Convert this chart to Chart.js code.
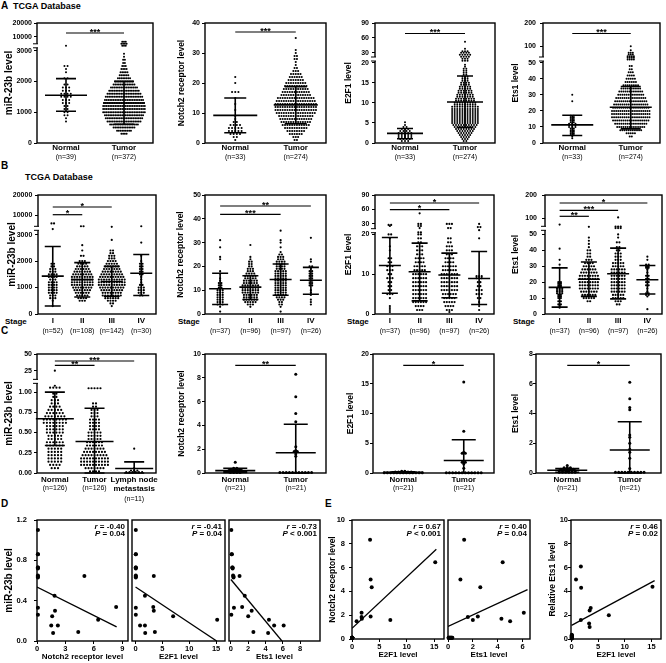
<!DOCTYPE html>
<html>
<head>
<meta charset="utf-8">
<script src="https://cdn.jsdelivr.net/npm/chart.js@4.4.0/dist/chart.umd.min.js"></script>
<style>
body { margin: 0; background: #fff; }
#fig { position: relative; width: 666px; height: 663px; overflow: hidden; font-family: "Liberation Sans", Arial, sans-serif; }
#fig canvas { position: absolute; }
.lbl { position: absolute; font-weight: bold; white-space: nowrap; line-height: 1; color: #000; }
</style>
</head>
<body>
<div id="fig">
  <div class="lbl" style="left:1px;top:1px;font-size:10px">A</div>
  <div class="lbl" style="left:13px;top:2px;font-size:9px">TCGA Database</div>
  <div class="lbl" style="left:1px;top:161px;font-size:10px">B</div>
  <div class="lbl" style="left:25px;top:173px;font-size:9px">TCGA Database</div>
  <div class="lbl" style="left:5px;top:318px;font-size:8px">Stage</div>
  <div class="lbl" style="left:178px;top:318px;font-size:8px">Stage</div>
  <div class="lbl" style="left:347px;top:318px;font-size:8px">Stage</div>
  <div class="lbl" style="left:513px;top:318px;font-size:8px">Stage</div>
  <div class="lbl" style="left:1px;top:326px;font-size:10px">C</div>
  <div class="lbl" style="left:1px;top:499px;font-size:10px">D</div>
  <div class="lbl" style="left:325px;top:499px;font-size:10px">E</div>
</div>
<script>
// ---- A: TCGA normal vs tumor (rows of the beeswarm: value -> number of dots) ----
const catsNT = ['Normal', 'Tumor'];
const a1Subs = ['(n=39)', '(n=372)'];
const aSubs = ['(n=33)', '(n=274)'];

const a1Vals = [
  [5500, 2500, 2400, 2300, 2100, 1900, 1800, 1700, 1600, 1500, 1400, 1300, 1200, 1100, 1000, 900, 800, 700],
  [7500, 6500, 5500, 2900, 2800, 2700, 2600, 2500, 2400, 2300, 2200, 2100, 2000, 1900, 1800, 1700, 1600, 1500, 1400, 1300, 1200, 1100, 1000, 900, 800, 700, 600, 500, 400, 300]
];
const a1Cnt = [
  [1, 2, 1, 1, 2, 2, 3, 3, 4, 4, 3, 3, 2, 2, 2, 2, 1, 1],
  [3, 4, 3, 1, 1, 2, 2, 3, 4, 5, 6, 8, 11, 13, 16, 18, 20, 22, 23, 24, 25, 25, 25, 23, 22, 20, 17, 13, 9, 4]
];
const a1Mean = [1550, 1300], a1Lo = [1030, 610], a1Hi = [2090, 2000];
const a1Ticks = [0, 1000, 2000, 3000, 10000, 20000];

const a2Vals = [
  [22, 20, 17, 15, 13, 11, 9, 8, 7, 6, 5, 4, 3, 2, 1],
  [35, 31, 30, 29, 28, 27, 26, 25, 24, 23, 22, 21, 20, 19, 18, 17, 16, 15, 14, 13, 12, 11, 10, 9, 8, 7, 6, 5, 4, 3, 2, 1]
];
const a2Cnt = [
  [1, 1, 3, 1, 1, 1, 1, 1, 2, 4, 5, 5, 4, 2, 1],
  [1, 1, 1, 2, 2, 1, 1, 2, 3, 5, 6, 7, 9, 10, 11, 12, 13, 16, 17, 18, 18, 18, 17, 15, 14, 13, 12, 10, 8, 6, 3, 2]
];
const a2Mean = [9.2, 12.7], a2Lo = [3.4, 6.4], a2Hi = [15, 18.8];
const a2Ticks = [0, 10, 20, 30, 40];

const a3Vals = [
  [5.2, 4.5, 4, 3.5, 3, 2.5, 2, 1.5, 1, 0.5],
  [52, 38, 33, 30, 28, 26, 24, 22, 19.5, 19, 18.5, 18, 17.5, 17, 16.5, 16, 15.5, 15, 14.5, 14, 13.5, 13, 12.5, 12, 11.5, 11, 10.5, 10,
   9.5, 9, 8.5, 8, 7.5, 7, 6.5, 6, 5.5, 5, 4.5, 4, 3.5, 3, 2.5, 2, 1.5, 1, 0.5]
];
const a3Cnt = [
  [1, 1, 2, 3, 4, 5, 5, 5, 4, 3],
  [1, 1, 3, 4, 5, 4, 3, 3, 1, 1, 2, 2, 2, 2, 3, 3, 3, 4, 4, 5, 5, 6, 6, 7, 7, 8, 8, 9,
   9, 11, 11, 11, 11, 11, 11, 11, 11, 11, 10, 9, 8, 7, 6, 5, 4, 3, 2]
];
const a3Mean = [2.4, 10.2], a3Lo = [1.06, 3.9], a3Hi = [3.6, 16.7];
const a3Ticks = [0, 5, 10, 15, 20, 30, 60, 90];

const a4Vals = [
  [30, 26, 17, 16, 15, 14, 13, 12, 11, 10, 9, 8, 7, 6, 5, 4, 3],
  [100, 88, 80, 75, 70, 65, 60, 48, 46, 44, 42, 40, 38, 36, 34, 32, 30, 28, 26, 24, 22, 20, 18, 16, 14, 12, 10, 8, 6, 4]
];
const a4Cnt = [
  [1, 1, 2, 2, 2, 2, 2, 3, 3, 3, 2, 2, 2, 2, 2, 1, 1],
  [1, 1, 3, 3, 4, 4, 4, 2, 2, 3, 4, 5, 6, 8, 10, 12, 13, 15, 16, 17, 18, 19, 19, 19, 18, 16, 14, 11, 5, 2]
];
const a4Mean = [11.3, 22.3], a4Lo = [4.7, 8.8], a4Hi = [17.3, 35.2];
const a4Ticks = [0, 10, 20, 30, 40, 50, 100, 200];

// ---- B: TCGA by stage ----
const catsStage = ['I', 'II', 'III', 'IV'];
const b1Subs = ['(n=52)', '(n=108)', '(n=142)', '(n=30)'];
const bSubs = ['(n=37)', '(n=96)', '(n=97)', '(n=26)'];

const b1Vals = [
  [7000, 5000, 1900, 1800, 1700, 1600, 1500, 1400, 1300, 1200, 1100, 1000, 900, 800, 700, 600, 500, 300],
  [6000, 2600, 2400, 2200, 2000, 1900, 1800, 1700, 1600, 1500, 1400, 1300, 1200, 1100, 1000, 900, 800, 700, 600, 500],
  [5800, 2800, 2400, 2300, 2200, 2100, 2000, 1900, 1800, 1700, 1600, 1500, 1400, 1300, 1200, 1100, 1000, 900, 800, 700, 600, 500, 400, 300],
  [6000, 2700, 2200, 2000, 1900, 1800, 1700, 1600, 1500, 1400, 1300, 1200, 1100, 1000, 900, 800, 700]
];
const b1Cnt = [
  [2, 1, 2, 2, 3, 3, 4, 4, 3, 4, 4, 4, 4, 4, 3, 3, 1, 1],
  [2, 1, 1, 2, 3, 4, 5, 6, 7, 8, 9, 9, 9, 9, 8, 7, 6, 5, 4, 3],
  [1, 1, 2, 2, 3, 3, 4, 5, 6, 7, 8, 9, 10, 11, 11, 11, 10, 9, 8, 8, 6, 4, 2, 1],
  [1, 1, 1, 1, 2, 2, 2, 2, 2, 1, 1, 1, 2, 3, 3, 3, 2]
];
const b1Mean = [1430, 1300, 1230, 1540], b1Lo = [300, 640, 670, 700], b1Hi = [2550, 1940, 1800, 2250];

const b2Vals = [
  [31, 28, 24, 23, 18, 17, 15, 14, 13, 12, 11, 10, 9, 8, 7, 6, 5, 4, 3, 1],
  [29, 24, 23, 22, 21, 20, 19, 18, 17, 16, 15, 14, 13, 12, 11, 10, 9, 8, 7, 6, 5, 4, 3],
  [35, 31, 30, 28, 26, 25, 24, 23, 22, 21, 20, 19, 18, 17, 16, 15, 14, 13, 12, 11, 10, 9, 8, 7, 6, 5, 4, 3, 1],
  [32, 23, 22, 20, 19, 18, 17, 16, 15, 14, 13, 12, 10, 9, 8, 6, 5, 4]
];
const b2Cnt = [
  [1, 1, 1, 1, 1, 1, 1, 1, 2, 2, 2, 3, 3, 3, 3, 3, 3, 3, 1, 1],
  [1, 1, 1, 2, 2, 2, 3, 3, 4, 5, 5, 6, 6, 7, 7, 7, 7, 6, 6, 6, 5, 3, 1],
  [1, 1, 1, 1, 1, 2, 3, 3, 4, 4, 4, 4, 5, 5, 5, 5, 5, 5, 5, 5, 5, 5, 5, 4, 3, 2, 2, 1, 1],
  [1, 1, 1, 2, 1, 2, 2, 2, 2, 2, 2, 2, 1, 1, 1, 1, 1, 1]
];
const b2Mean = [10.6, 11.3, 14.5, 14.2], b2Lo = [4.0, 6.1, 7.9, 8.3], b2Hi = [17.1, 16.1, 21.0, 19.6];

const b3Vals = [
  [29, 28, 20, 19, 17, 16, 14, 13, 12, 11, 10, 9, 8, 7, 6, 5, 4, 2, 1.5, 1, 0.5],
  [52, 30, 28, 26, 22, 20, 19, 18, 17, 16, 15, 14, 13, 12, 11, 10, 9, 8, 7, 6, 5, 4, 3, 2, 1],
  [30, 26, 19, 18, 17, 16, 15, 14, 13, 12, 11, 10, 9, 8, 7, 6, 5, 4, 3, 2, 1, 0.5],
  [30, 27, 24, 19, 9.5, 9, 8, 7, 6, 5, 4, 3, 2, 1]
];
const b3Cnt = [
  [2, 1, 2, 1, 1, 1, 2, 2, 3, 3, 2, 3, 2, 2, 2, 3, 1, 1, 1, 1, 1],
  [1, 2, 2, 1, 2, 2, 2, 2, 3, 3, 3, 4, 4, 5, 5, 6, 6, 6, 6, 6, 6, 6, 6, 4, 3],
  [3, 2, 2, 2, 3, 3, 3, 4, 4, 6, 6, 7, 7, 7, 7, 7, 6, 5, 5, 4, 3, 1],
  [1, 2, 1, 1, 3, 3, 2, 2, 3, 3, 2, 1, 1, 1]
];
const b3Mean = [12.2, 10.6, 9.8, 8.9], b3Lo = [5.2, 3.3, 4.1, 2.4], b3Hi = [19.2, 17.8, 15.3, 15.7];

const b4Vals = [
  [81, 41, 34, 31, 29, 20, 19, 18, 17, 16, 15, 14, 13, 12, 11, 10, 8, 6, 5, 4],
  [74, 48, 46, 44, 42, 40, 38, 36, 34, 32, 30, 28, 26, 24, 22, 20, 18, 16, 14, 12, 10, 8],
  [105, 75, 70, 50, 48, 45, 42, 40, 38, 36, 34, 32, 30, 28, 26, 24, 22, 20, 18, 16, 14, 12, 10, 8, 6],
  [36, 34, 31, 30, 29, 28, 26, 24, 22, 20, 18, 16, 14, 13, 12, 11, 3]
];
const b4Cnt = [
  [1, 1, 1, 1, 1, 2, 2, 2, 2, 3, 3, 3, 3, 2, 2, 2, 2, 2, 1, 1],
  [1, 1, 1, 1, 1, 2, 2, 2, 3, 4, 5, 6, 7, 8, 8, 8, 8, 8, 7, 6, 5, 2],
  [1, 3, 3, 1, 1, 2, 2, 2, 3, 3, 3, 5, 5, 6, 6, 6, 6, 6, 6, 6, 6, 5, 5, 3, 2],
  [1, 1, 2, 2, 2, 1, 1, 2, 2, 2, 2, 1, 1, 2, 2, 1, 1]
];
const b4Mean = [16.7, 21.8, 25.3, 21.5], b4Lo = [4.3, 11.1, 9.5, 12.6], b4Hi = [29, 32.7, 41.4, 30.5];

// ---- C: clinical samples ----
const catsC1 = ['Normal', 'Tumor', 'Lymph node'];
const c1Subs = ['(n=126)', '(n=126)', 'metastasis'];
const c1Subs3 = ['', '', '(n=11)'];
const cSubs = ['(n=21)', '(n=21)'];

const c1Vals = [
  [25, 1.1, 1.07, 0.98, 0.94, 0.90, 0.86, 0.82, 0.78, 0.74, 0.70, 0.66, 0.62, 0.58, 0.54, 0.50, 0.46, 0.42, 0.38, 0.34, 0.30, 0.26, 0.22, 0.18, 0.14, 0.10, 0.06],
  [1.06, 0.86, 0.82, 0.78, 0.74, 0.70, 0.66, 0.62, 0.58, 0.54, 0.50, 0.46, 0.42, 0.38, 0.34, 0.30, 0.26, 0.22, 0.18, 0.14, 0.10, 0.06, 0.02],
  [0.3, 0.06, 0.03, 0.01]
];
const c1Cnt = [
  [1, 1, 4, 2, 2, 3, 3, 4, 5, 6, 7, 8, 8, 6, 6, 6, 5, 5, 6, 6, 5, 5, 5, 5, 5, 4, 3],
  [5, 2, 2, 3, 3, 3, 4, 4, 4, 4, 5, 5, 5, 6, 6, 7, 8, 9, 10, 10, 10, 7, 4],
  [1, 1, 3, 6]
];
const c1Mean = [0.67, 0.39, 0.055], c1Lo = [0.34, 0, 0], c1Hi = [1.0, 0.8, 0.137];
const c1Ticks = [0, 0.25, 0.5, 0.75, 1, 25, 50];
const c1TickLabels = ['0.00', '0.25', '0.50', '0.75', '1.00', '25', '50'];

const c2Vals = [[0.9, 0.4, 0.3, 0.2, 0.1, 0.05], [8.3, 6.4, 5.0, 4.3, 2.2, 1.9, 1.8, 1.6, 1.4, 0.05]];
const c2Cnt = [[1, 2, 4, 5, 5, 4], [1, 1, 1, 1, 1, 1, 2, 1, 1, 11]];
const c2Mean = [0.2, 1.7], c2Lo = [0.05, 0], c2Hi = [0.4, 4.1];

const c3Vals = [[0.3, 0.15, 0.05], [15.3, 7.0, 3.5, 3.3, 1.8, 1.5, 0.8, 0.05]];
const c3Cnt = [[2, 6, 13], [1, 1, 1, 2, 2, 1, 1, 12]];
const c3Mean = [0.1, 2.1], c3Lo = [0.03, 0], c3Hi = [0.2, 5.6];

const c4Vals = [[0.5, 0.35, 0.25, 0.15, 0.05], [6.1, 5.0, 4.4, 4.25, 2.55, 2.4, 2.0, 1.6, 1.4, 1.0, 0.3, 0.05]];
const c4Cnt = [[1, 3, 5, 6, 6], [1, 1, 1, 1, 1, 1, 1, 1, 1, 1, 1, 10]];
const c4Mean = [0.18, 1.55], c4Lo = [0.05, 0], c4Hi = [0.3, 3.45];

// ---- D / E: the 21 tumour samples ----
const sNotch2 = [8.35, 6.45, 5.0, 4.35, 2.2, 1.9, 1.85, 1.6, 1.5, 1.7, 0.1, 0.1, 0.1, 0.1, 0.1, 0.1, 0.1, 0.1, 0.1, 0.1, 0.1];
const sE2f1 = [3.3, 15.2, 3.4, 3.6, 1.75, 3.4, 1.75, 7.0, 0.84, 1.8, 0.05, 0.05, 0.05, 0.05, 0.05, 0.05, 0.05, 0.05, 0.05, 0.05, 0.05];
const sEts1 = [1.3, 4.4, 1.0, 2.6, 6.1, 2.4, 1.6, 2.0, 5.0, 4.3, 0.05, 0.1, 0.15, 0.2, 0.25, 0.3, 0.35, 0.05, 0.1, 0.2, 0.3];
const sMir = [0.336, 0.21, 0.645, 0.09, 0.153, 0.30, 0.45, 0.245, 0.153, 0.08, 1.10, 0.86, 0.73, 0.72, 0.65, 0.63, 0.33, 0.26, 0.86, 0.73, 0.64];

const fitD1 = { x: [0, 8.4], y: [0.535, 0.14] };
const fitD2 = { x: [0, 15.1], y: [0.535, 0.0] };
const fitD3 = { x: [0, 5.9], y: [0.61, 0.0] };
const fitE1 = { x: [0, 15.4], y: [0.9, 7.55] };
const fitE2 = { x: [0, 6.4], y: [1.05, 4.15] };
const fitE3 = { x: [0, 15.6], y: [1.15, 4.9] };

// ----------------------------------------------------------------
const FONT = '"Liberation Sans", Arial, sans-serif';
Chart.defaults.font.family = FONT;
Chart.defaults.color = '#000';
const fig = document.getElementById('fig');

function addCanvas(left, top, w, h) {
  const c = document.createElement('canvas');
  c.width = w; c.height = h;
  c.style.left = left + 'px'; c.style.top = top + 'px';
  c.style.width = w + 'px'; c.style.height = h + 'px';
  fig.appendChild(c);
  return c;
}

// piecewise axis (broken axes): real value -> fraction of plot height
function mapper(real, frac) {
  return v => {
    for (let i = 1; i < real.length; i++) {
      if (v <= real[i] || i === real.length - 1)
        return frac[i - 1] + (v - real[i - 1]) / (real[i] - real[i - 1]) * (frac[i] - frac[i - 1]);
    }
  };
}
function fixBox(w, h) {
  return s => {
    if (w != null) s.width = w;
    if (h != null) s.height = h;
    s.paddingLeft = s.paddingRight = s.paddingTop = s.paddingBottom = 0;
  };
}
function setTicks(arr) { return s => { s.ticks = arr.map(v => ({ value: v })); }; }

const labA = { p1: 0, h1: 10, p2: 0, h2: 9 };
const labB = { p1: 2, h1: 12, p2: 1, h2: 10 };
const labC = { p1: 2, h1: 11, p2: 0, h2: 9, p3: 2, h3: 12 };

function makeDot(p) {
  const [l, t, r, b] = p.plot;
  const hb = p.lab.h1 + p.lab.h2 + (p.subs3 ? p.lab.h3 : 0);
  const cv = addCanvas(Math.round(l - p.wl), t - 2, Math.round(r - l + p.wl + 3), b - t + 2 + hb);
  const wl = l - Math.round(l - p.wl);
  const fy = mapper(p.yReal, p.yFrac);
  const upx = (p.xMax - p.xMin) / (r - l);
  const catX = p.cats.map((_, i) => i + 1);
  const labels = p.yLabels || p.yTicks.map(String);

  const datasets = p.vals.map((rows, g) => {
    const pts = [];
    rows.forEach((v, i) => {
      const n = p.cnt[g][i];
      for (let k = 0; k < n; k++) pts.push({ x: g + 1 + (k - (n - 1) / 2) * p.dx[g] * upx, y: fy(v) });
    });
    return { data: pts, pointRadius: p.rad, pointBackgroundColor: '#000', pointBorderWidth: 0, clip: 4 };
  });

  const deco = {
    id: 'deco',
    afterDraw(ch) {
      const c = ch.ctx, a = ch.chartArea, xs = ch.scales.x, ys = ch.scales.y;
      c.save();
      c.strokeStyle = '#000'; c.lineWidth = 1.4;
      c.strokeRect(a.left, a.top, a.right - a.left, a.bottom - a.top);
      if (p.brk != null) {
        const yb = ys.getPixelForValue(p.brk);
        c.fillStyle = '#fff'; c.fillRect(a.left - 2, yb - 2, 4, 4);
        c.lineWidth = 1; c.beginPath();
        c.moveTo(a.left - 4, yb - 2); c.lineTo(a.left + 1, yb - 2);
        c.moveTo(a.left - 4, yb + 2); c.lineTo(a.left + 1, yb + 2);
        c.stroke();
      }
      c.lineWidth = 1.6;
      p.mean.forEach((m, g) => {
        const cx = xs.getPixelForValue(g + 1);
        const ym = ys.getPixelForValue(fy(m));
        const y1 = ys.getPixelForValue(fy(p.lo[g])), y2 = ys.getPixelForValue(fy(p.hi[g]));
        c.beginPath();
        c.moveTo(cx - p.mh, ym); c.lineTo(cx + p.mh, ym);
        c.moveTo(cx, y1); c.lineTo(cx, y2);
        c.moveTo(cx - p.ch, y1); c.lineTo(cx + p.ch, y1);
        c.moveTo(cx - p.ch, y2); c.lineTo(cx + p.ch, y2);
        c.stroke();
      });
      c.lineWidth = 1.2; c.fillStyle = '#000';
      c.font = 'bold 9px ' + FONT; c.textAlign = 'center'; c.textBaseline = 'alphabetic';
      p.sig.forEach(s => {
        const x1 = xs.getPixelForValue(s.a), x2 = xs.getPixelForValue(s.b), y = a.top + s.dy;
        c.beginPath(); c.moveTo(x1, y); c.lineTo(x2, y); c.stroke();
        c.fillText(s.t, (x1 + x2) / 2, y + 1.5);
      });
      c.restore();
    }
  };

  const catAxis = (weight, h, pad, font, texts) => ({
    type: 'linear', position: 'bottom', weight, min: p.xMin, max: p.xMax,
    afterBuildTicks: setTicks(catX), afterFit: fixBox(null, h),
    grid: { display: false, drawTicks: false }, border: { display: false },
    ticks: { autoSkip: false, maxRotation: 0, minRotation: 0, padding: pad, font, callback: (v, i) => texts[i] }
  });
  const bold8 = { size: 8, weight: 'bold', lineHeight: 1.1 };
  const small7 = { size: 7, lineHeight: 1.1 };
  const scales = {
    x: catAxis(0, p.lab.h1, p.lab.p1, bold8, p.cats),
    // sub labels; a tick whose text is a word (not a count) keeps the bold label font
    x2: catAxis(1, p.lab.h2, p.lab.p2, ctx => (p.subs[ctx.index] || '').startsWith('(') ? small7 : bold8, p.subs),
    y: {
      type: 'linear', min: 0, max: 1,
      afterBuildTicks: setTicks(p.yTicks.map(fy)), afterFit: fixBox(wl, null),
      grid: { display: true, drawOnChartArea: false, drawTicks: true, tickLength: 3, color: '#000' },
      border: { display: false },
      ticks: { autoSkip: false, padding: p.yPad, font: { size: 7, weight: 'bold' }, callback: (v, i) => labels[i] },
      title: { display: true, text: p.title, font: { size: p.ts, weight: 'bold' }, padding: { top: 0, bottom: 0 } }
    }
  };
  if (p.subs3) scales.x3 = catAxis(2, p.lab.h3, p.lab.p3, small7, p.subs3);

  new Chart(cv, {
    type: 'scatter',
    data: { datasets },
    options: {
      responsive: false, animation: false, devicePixelRatio: 1, events: [],
      layout: { padding: { left: 0, top: 2, right: 3, bottom: 0 } },
      plugins: { legend: { display: false }, tooltip: { enabled: false } },
      scales
    },
    plugins: [deco]
  });
}

function makeSc(p) {
  const [l, t, r, b] = p.plot;
  const wl = p.wl || 1;
  const cv = addCanvas(Math.round(l - wl), t - 2, Math.round(r - l + wl + 3), b - t + 2 + 22);
  const w0 = l - Math.round(l - wl);
  const pts = p.xs.map((x, i) => ({ x, y: p.ys[i] }));
  const fit = p.fit.x.map((x, i) => ({ x, y: p.fit.y[i] }));

  const deco = {
    id: 'deco',
    afterDraw(ch) {
      const c = ch.ctx, a = ch.chartArea;
      c.save();
      c.strokeStyle = '#000'; c.lineWidth = 1.4;
      c.strokeRect(a.left, a.top, a.right - a.left, a.bottom - a.top);
      c.fillStyle = '#000'; c.textAlign = 'right'; c.textBaseline = 'middle';
      p.ann.forEach((s, i) => {
        const y = a.top + 6.5 + i * 7.5, xr = a.right - 3;
        const rest = s.slice(1);
        c.font = 'bold 8px ' + FONT;
        c.fillText(rest, xr, y);
        const w = c.measureText(rest).width;
        c.font = 'italic bold 8px ' + FONT;
        c.fillText(s[0], xr - w, y);
      });
      c.restore();
    }
  };

  new Chart(cv, {
    type: 'scatter',
    data: {
      datasets: [
        { data: pts, pointRadius: 2, pointBackgroundColor: '#000', pointBorderWidth: 0, clip: 4 },
        { type: 'line', data: fit, borderColor: '#000', borderWidth: 1.3, pointRadius: 0, fill: false }
      ]
    },
    options: {
      responsive: false, animation: false, devicePixelRatio: 1, events: [],
      layout: { padding: { left: p.wl ? 0 : 1, top: 2, right: 3, bottom: 0 } },
      plugins: { legend: { display: false }, tooltip: { enabled: false } },
      scales: {
        x: {
          type: 'linear', min: p.xMin, max: p.xMax,
          afterBuildTicks: setTicks(p.xTicks), afterFit: fixBox(null, 22),
          grid: { display: true, drawOnChartArea: false, drawTicks: true, tickLength: 3, color: '#000' },
          border: { display: false },
          ticks: { autoSkip: false, maxRotation: 0, padding: 0, font: { size: 7.5, weight: 'bold' }, callback: (v, i) => String(p.xTicks[i]) },
          title: { display: true, text: p.xTitle, font: { size: 8, weight: 'bold' }, padding: { top: 0, bottom: 1 } }
        },
        y: {
          display: !!p.wl, type: 'linear', min: p.yMin, max: p.yMax,
          afterBuildTicks: setTicks(p.yTicks), afterFit: fixBox(w0, null),
          grid: { display: true, drawOnChartArea: false, drawTicks: true, tickLength: 3, color: '#000' },
          border: { display: false },
          ticks: { autoSkip: false, padding: p.yPad || 0, font: { size: 7.5, weight: 'bold' }, callback: (v, i) => p.yLabels[i] },
          title: { display: true, text: p.title || '', font: { size: p.ts || 8, weight: 'bold' }, padding: { top: 0, bottom: 0 } }
        }
      }
    },
    plugins: [deco]
  });
}

// ---- row A ----
makeDot({ plot: [37, 21, 154, 143], wl: 34, ts: 10, title: 'miR-23b level', cats: catsNT, subs: a1Subs, xMin: 0.5, xMax: 2.5,
  yReal: [0, 3000, 10000, 20000], yFrac: [0, 0.77, 0.885, 1], yTicks: a1Ticks, brk: 0.81,
  vals: a1Vals, cnt: a1Cnt, mean: a1Mean, lo: a1Lo, hi: a1Hi, dx: [3.2, 1.75], rad: 1.0, mh: 21, ch: 10,
  sig: [{ a: 1, b: 2, t: '***', dy: 10 }], lab: labA, yPad: 2 });
makeDot({ plot: [205, 21, 327, 143], wl: 28, ts: 8.5, title: 'Notch2 receptor level', cats: catsNT, subs: aSubs, xMin: 0.5, xMax: 2.5,
  yReal: [0, 40], yFrac: [0, 1], yTicks: a2Ticks, brk: null,
  vals: a2Vals, cnt: a2Cnt, mean: a2Mean, lo: a2Lo, hi: a2Hi, dx: [3.2, 2.4], rad: 1.05, mh: 22, ch: 11,
  sig: [{ a: 1, b: 2, t: '***', dy: 9 }], lab: labA, yPad: 2 });
makeDot({ plot: [375, 21, 496, 143], wl: 31, ts: 8.5, title: 'E2F1 level', cats: catsNT, subs: aSubs, xMin: 0.5, xMax: 2.5,
  yReal: [0, 20, 30, 90], yFrac: [0, 0.669, 0.752, 1], yTicks: a3Ticks, brk: 0.70,
  vals: a3Vals, cnt: a3Cnt, mean: a3Mean, lo: a3Lo, hi: a3Hi, dx: [3.2, 2.6], rad: 1.0, mh: 18, ch: 8,
  sig: [{ a: 1, b: 2, t: '***', dy: 10.5 }], lab: labA, yPad: 3 });
makeDot({ plot: [543, 21, 661, 143], wl: 32, ts: 8.5, title: 'Ets1 level', cats: catsNT, subs: aSubs, xMin: 0.5, xMax: 2.5,
  yReal: [0, 50, 100, 200], yFrac: [0, 0.669, 0.806, 1], yTicks: a4Ticks, brk: 0.70,
  vals: a4Vals, cnt: a4Cnt, mean: a4Mean, lo: a4Lo, hi: a4Hi, dx: [3.2, 2.1], rad: 1.0, mh: 21, ch: 10,
  sig: [{ a: 1, b: 2, t: '***', dy: 10.5 }], lab: labA, yPad: 4 });

// ---- row B ----
makeDot({ plot: [38, 193, 157, 314], wl: 32, ts: 10, title: 'miR-23b level', cats: catsStage, subs: b1Subs, xMin: 0.5, xMax: 4.5,
  yReal: [0, 3000, 10000, 20000], yFrac: [0, 0.667, 0.831, 1], yTicks: a1Ticks, brk: 0.72,
  vals: b1Vals, cnt: b1Cnt, mean: b1Mean, lo: b1Lo, hi: b1Hi, dx: [2.6, 2.6, 2.6, 2.6], rad: 1.1, mh: 11, ch: 8,
  sig: [{ a: 1, b: 3, t: '*', dy: 12 }, { a: 1, b: 2, t: '*', dy: 19.7 }], lab: labB, yPad: 2.7 });
makeDot({ plot: [205, 193, 327, 314], wl: 29, ts: 8.5, title: 'Notch2 receptor level', cats: catsStage, subs: bSubs, xMin: 0.5, xMax: 4.5,
  yReal: [0, 50], yFrac: [0, 1], yTicks: [0, 10, 20, 30, 40, 50], brk: null,
  vals: b2Vals, cnt: b2Cnt, mean: b2Mean, lo: b2Lo, hi: b2Hi, dx: [2.6, 2.6, 2.6, 2.6], rad: 1.1, mh: 11, ch: 8,
  sig: [{ a: 1, b: 4, t: '**', dy: 11 }, { a: 1, b: 3, t: '***', dy: 19.3 }], lab: labB, yPad: 1 });
makeDot({ plot: [375, 193, 495, 314], wl: 31, ts: 8.5, title: 'E2F1 level', cats: catsStage, subs: bSubs, xMin: 0.5, xMax: 4.5,
  yReal: [0, 20, 30, 90], yFrac: [0, 0.669, 0.757, 1], yTicks: [0, 10, 20, 30, 60, 90], brk: 0.70,
  vals: b3Vals, cnt: b3Cnt, mean: b3Mean, lo: b3Lo, hi: b3Hi, dx: [2.6, 2.6, 2.6, 2.6], rad: 1.1, mh: 11, ch: 8,
  sig: [{ a: 1, b: 4, t: '*', dy: 8 }, { a: 1, b: 3, t: '*', dy: 14.7 }], lab: labB, yPad: 2.7 });
makeDot({ plot: [545, 193, 663, 314], wl: 33.6, ts: 8.5, title: 'Ets1 level', cats: catsStage, subs: bSubs, xMin: 0.5, xMax: 4.5,
  yReal: [0, 50, 100, 200], yFrac: [0, 0.669, 0.802, 1], yTicks: a4Ticks, brk: 0.72,
  vals: b4Vals, cnt: b4Cnt, mean: b4Mean, lo: b4Lo, hi: b4Hi, dx: [2.6, 2.6, 2.6, 2.6], rad: 1.1, mh: 11, ch: 8,
  sig: [{ a: 1, b: 4, t: '*', dy: 8 }, { a: 1, b: 3, t: '***', dy: 15.3 }, { a: 1, b: 2, t: '**', dy: 21.3 }], lab: labB, yPad: 5 });

// ---- row C ----
makeDot({ plot: [37, 352, 157, 473], wl: 34, ts: 10, title: 'miR-23b level', cats: catsC1, subs: c1Subs, subs3: c1Subs3, xMin: 0.55, xMax: 3.55,
  yReal: [0, 1, 1.15, 25, 50], yFrac: [0, 0.68, 0.76, 0.86, 1], yTicks: c1Ticks, yLabels: c1TickLabels, brk: 0.77,
  vals: c1Vals, cnt: c1Cnt, mean: c1Mean, lo: c1Lo, hi: c1Hi, dx: [3.2, 3.0, 3.2], rad: 1.1, mh: 19, ch: 10,
  sig: [{ a: 1, b: 3, t: '***', dy: 7 }, { a: 1, b: 2, t: '**', dy: 11.3 }], lab: labC, yPad: 2 });
makeDot({ plot: [205, 352, 327, 473], wl: 28, ts: 8.5, title: 'Notch2 receptor level', cats: catsNT, subs: cSubs, xMin: 0.5, xMax: 2.5,
  yReal: [0, 10], yFrac: [0, 1], yTicks: [0, 2, 4, 6, 8, 10], brk: null,
  vals: c2Vals, cnt: c2Cnt, mean: c2Mean, lo: c2Lo, hi: c2Hi, dx: [3.2, 3.2], rad: 1.5, mh: 20, ch: 12,
  sig: [{ a: 1, b: 2, t: '**', dy: 11.3 }], lab: labC, yPad: 1 });
makeDot({ plot: [373, 352, 495, 473], wl: 27, ts: 8.5, title: 'E2F1 level', cats: catsNT, subs: cSubs, xMin: 0.5, xMax: 2.5,
  yReal: [0, 20], yFrac: [0, 1], yTicks: [0, 5, 10, 15, 20], brk: null,
  vals: c3Vals, cnt: c3Cnt, mean: c3Mean, lo: c3Lo, hi: c3Hi, dx: [3.2, 3.2], rad: 1.5, mh: 20, ch: 12,
  sig: [{ a: 1, b: 2, t: '*', dy: 11.3 }], lab: labC, yPad: 1 });
makeDot({ plot: [536, 352, 662, 473], wl: 25, ts: 8.5, title: 'Ets1 level', cats: catsNT, subs: cSubs, xMin: 0.5, xMax: 2.5,
  yReal: [0, 8], yFrac: [0, 1], yTicks: [0, 2, 4, 6, 8], brk: null,
  vals: c4Vals, cnt: c4Cnt, mean: c4Mean, lo: c4Lo, hi: c4Hi, dx: [3.2, 3.2], rad: 1.5, mh: 20, ch: 12,
  sig: [{ a: 1, b: 2, t: '*', dy: 11.3 }], lab: labC, yPad: 0 });

// ---- row D / E ----
const dY = { yMin: 0, yMax: 1.2, yTicks: [0, 0.4, 0.8, 1.2], yLabels: ['0.0', '0.4', '0.8', '1.2'] };
const eY = { yMin: 0, yMax: 10, yTicks: [0, 2, 4, 6, 8, 10], yLabels: ['0', '2', '4', '6', '8', '10'] };
makeSc(Object.assign({ plot: [37, 518, 129, 641], wl: 34, ts: 10, title: 'miR-23b level', yPad: 7,
  xMin: 0, xMax: 9.6, xTicks: [0, 3, 6, 9], xTitle: 'Notch2 receptor level',
  xs: sNotch2, ys: sMir, fit: fitD1, ann: ['r = -0.40', 'P = 0.04'] }, dY));
makeSc(Object.assign({ plot: [129, 518, 226, 641], wl: 0,
  xMin: -0.66, xMax: 16.66, xTicks: [0, 5, 10, 15], xTitle: 'E2F1 level',
  xs: sE2f1, ys: sMir, fit: fitD2, ann: ['r = -0.41', 'P = 0.04'] }, dY));
makeSc(Object.assign({ plot: [226, 518, 321, 641], wl: 0,
  xMin: -0.22, xMax: 10.3, xTicks: [0, 2, 4, 6, 8], xTitle: 'Ets1 level',
  xs: sEts1, ys: sMir, fit: fitD3, ann: ['r = -0.73', 'P < 0.001'] }, dY));
makeSc(Object.assign({ plot: [352, 518, 445, 639], wl: 24, ts: 8.5, title: 'Notch2 receptor level', yPad: 4,
  xMin: 0, xMax: 16.8, xTicks: [0, 5, 10, 15], xTitle: 'E2F1 level',
  xs: sE2f1, ys: sNotch2, fit: fitE1, ann: ['r = 0.67', 'P < 0.001'] }, eY));
makeSc(Object.assign({ plot: [445, 518, 531, 639], wl: 0,
  xMin: 0, xMax: 6.6, xTicks: [0, 2, 4, 6], xTitle: 'Ets1 level',
  xs: sEts1, ys: sNotch2, fit: fitE2, ann: ['r = 0.40', 'P = 0.04'] }, eY));
makeSc(Object.assign({ plot: [571, 518, 662, 639], wl: 23, ts: 8.5, title: 'Relative Ets1 level', yPad: 0,
  xMin: -0.1, xMax: 16.8, xTicks: [0, 5, 10, 15], xTitle: 'E2F1 level',
  xs: sE2f1, ys: sEts1, fit: fitE3, ann: ['r = 0.46', 'P = 0.02'] }, eY));
</script>
</body>
</html>
